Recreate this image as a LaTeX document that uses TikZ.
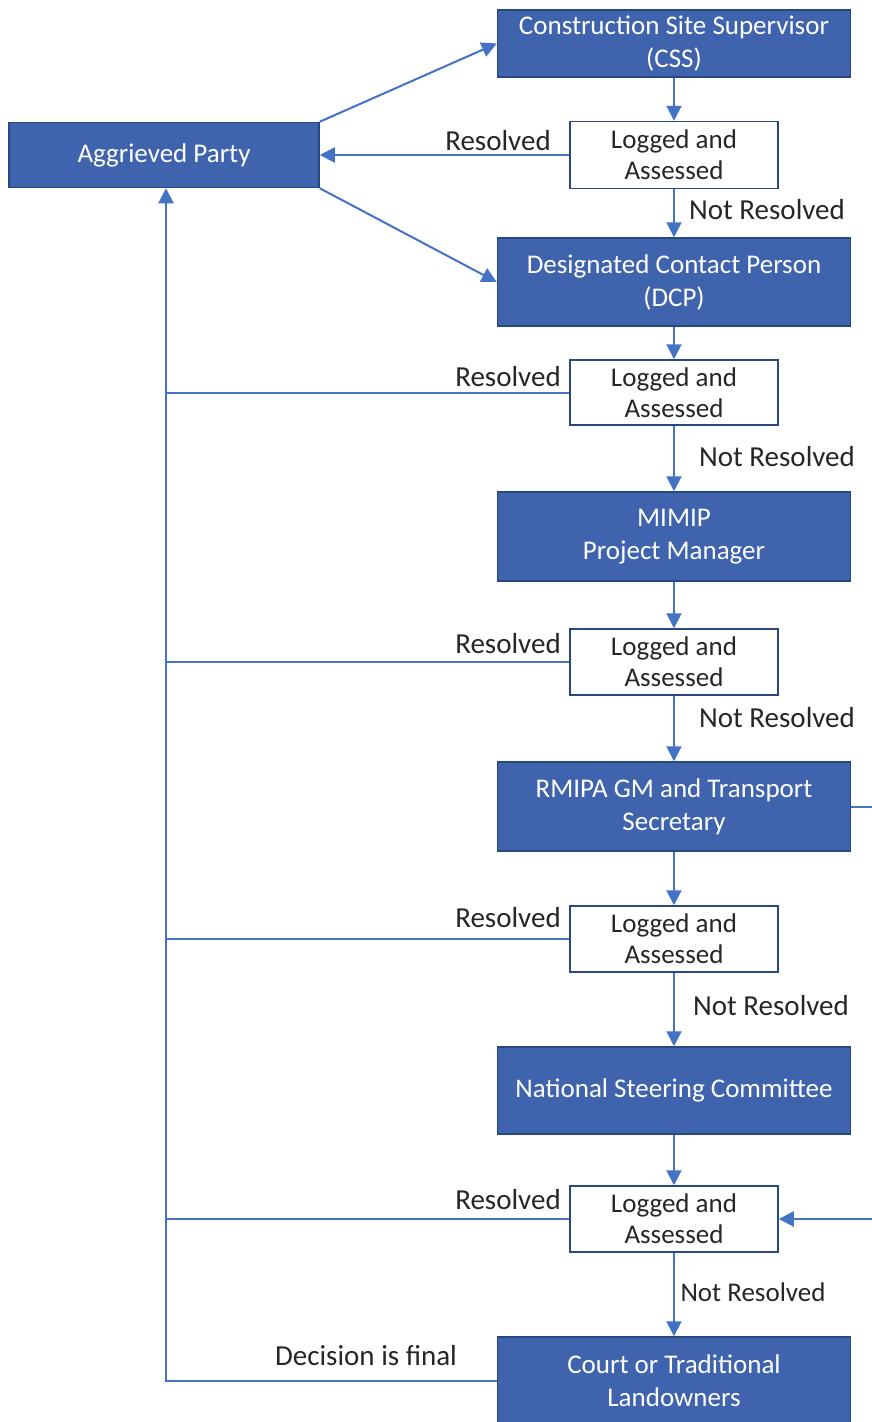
\documentclass[tikz,border=0pt]{standalone}
\usepackage{fontspec}
\setmainfont{Carlito}
\usetikzlibrary{arrows.meta}
\definecolor{boxblue}{RGB}{63,99,172}
\definecolor{edgeblue}{RGB}{40,72,130}
\definecolor{lineblue}{RGB}{68,114,196}
\begin{document}
\begin{tikzpicture}[x=1pt,y=-1pt,
 bluebox/.style={draw=edgeblue, line width=1.5pt, fill=boxblue, text=white,
   font=\fontsize{27}{33}\selectfont, align=center, minimum width=353pt, inner sep=0pt},
 logbox/.style={draw=edgeblue, line width=1.5pt, fill=white, text=black!85,
   font=\fontsize{27}{31}\selectfont, align=center, minimum width=208pt, minimum height=66pt, inner sep=0pt},
 conn/.style={draw=lineblue, line width=2pt},
 arr/.style={conn, -{Triangle[length=15pt,width=15pt]}},
 lbl/.style={font=\fontsize{29}{32}\selectfont, inner sep=0pt, text=black!85}
]
\useasboundingbox (0,0) rectangle (872,1422);
\clip (0,0) rectangle (872,1422);

\node[bluebox, minimum width=310pt, minimum height=65pt] (AP) at (164,155) {Aggrieved Party};
\node[bluebox, minimum height=67pt] (CSS) at (674,43.5) {Construction Site Supervisor\\(CSS)};
\node[logbox, minimum height=67pt] (L1) at (674,155) {Logged and\\Assessed};
\node[bluebox, minimum height=88pt] (DCP) at (674,282) {Designated Contact Person\\(DCP)};
\node[logbox, minimum height=65pt] (L2) at (674,392.5) {Logged and\\Assessed};
\node[bluebox, minimum height=89pt] (MIM) at (674,536.5) {MIMIP\\Project Manager};
\node[logbox] (L3) at (674,662) {Logged and\\Assessed};
\node[bluebox, minimum height=89pt] (RM) at (674,806.5) {RMIPA GM and Transport\\Secretary};
\node[logbox] (L4) at (674,939) {Logged and\\Assessed};
\node[bluebox, minimum height=87pt] (NSC) at (674,1090.5) {National Steering Committee};
\node[logbox] (L5) at (674,1219) {Logged and\\Assessed};
\node[bluebox, minimum height=88pt] (CT) at (674,1381) {Court or Traditional\\Landowners};

% vertical chain
\draw[arr] (CSS.south) -- (L1.north);
\draw[arr] (L1.south) -- (DCP.north);
\draw[arr] (DCP.south) -- (L2.north);
\draw[arr] (L2.south) -- (MIM.north);
\draw[arr] (MIM.south) -- (L3.north);
\draw[arr] (L3.south) -- (RM.north);
\draw[arr] (RM.south) -- (L4.north);
\draw[arr] (L4.south) -- (NSC.north);
\draw[arr] (NSC.south) -- (L5.north);
\draw[arr] (L5.south) -- (CT.north);

% aggrieved party links
\draw[arr] (AP.north east) -- (CSS.west);
\draw[arr] (AP.south east) -- (DCP.west);
\draw[arr] (L1.west) -- (AP.east);

% return spine
\coordinate (sp) at (166,1381);
\draw[arr] (CT.west) -- (sp) -- (sp |- AP.south);
\draw[conn] (L2.west) -- (L2.west -| sp);
\draw[conn] (L3.west) -- (L3.west -| sp);
\draw[conn] (L4.west) -- (L4.west -| sp);
\draw[conn] (L5.west) -- (L5.west -| sp);

% right loop (runs off the page)
\coordinate (rr) at (895,806);
\draw[arr] (RM.east) -- (RM.east -| rr) |- (L5.east);

% labels
\node[lbl] (r1) at (498,141) {Resolved};
\node[lbl] (r2) at (508,377) {Resolved};
\node[lbl] (r3) at (508,644) {Resolved};
\node[lbl] (r4) at (508,918) {Resolved};
\node[lbl] (r5) at (508,1200) {Resolved};
\node[lbl] (n1) at (767,210) {Not Resolved};
\node[lbl] (n2) at (777,457) {Not Resolved};
\node[lbl] (n3) at (777,718) {Not Resolved};
\node[lbl] (n4) at (771,1006) {Not Resolved};
\node[lbl, font=\fontsize{27}{30}\selectfont] (n5) at (753,1292) {Not Resolved};
\node[lbl] (df) at (366,1356) {Decision is final};
\end{tikzpicture}
\end{document}
